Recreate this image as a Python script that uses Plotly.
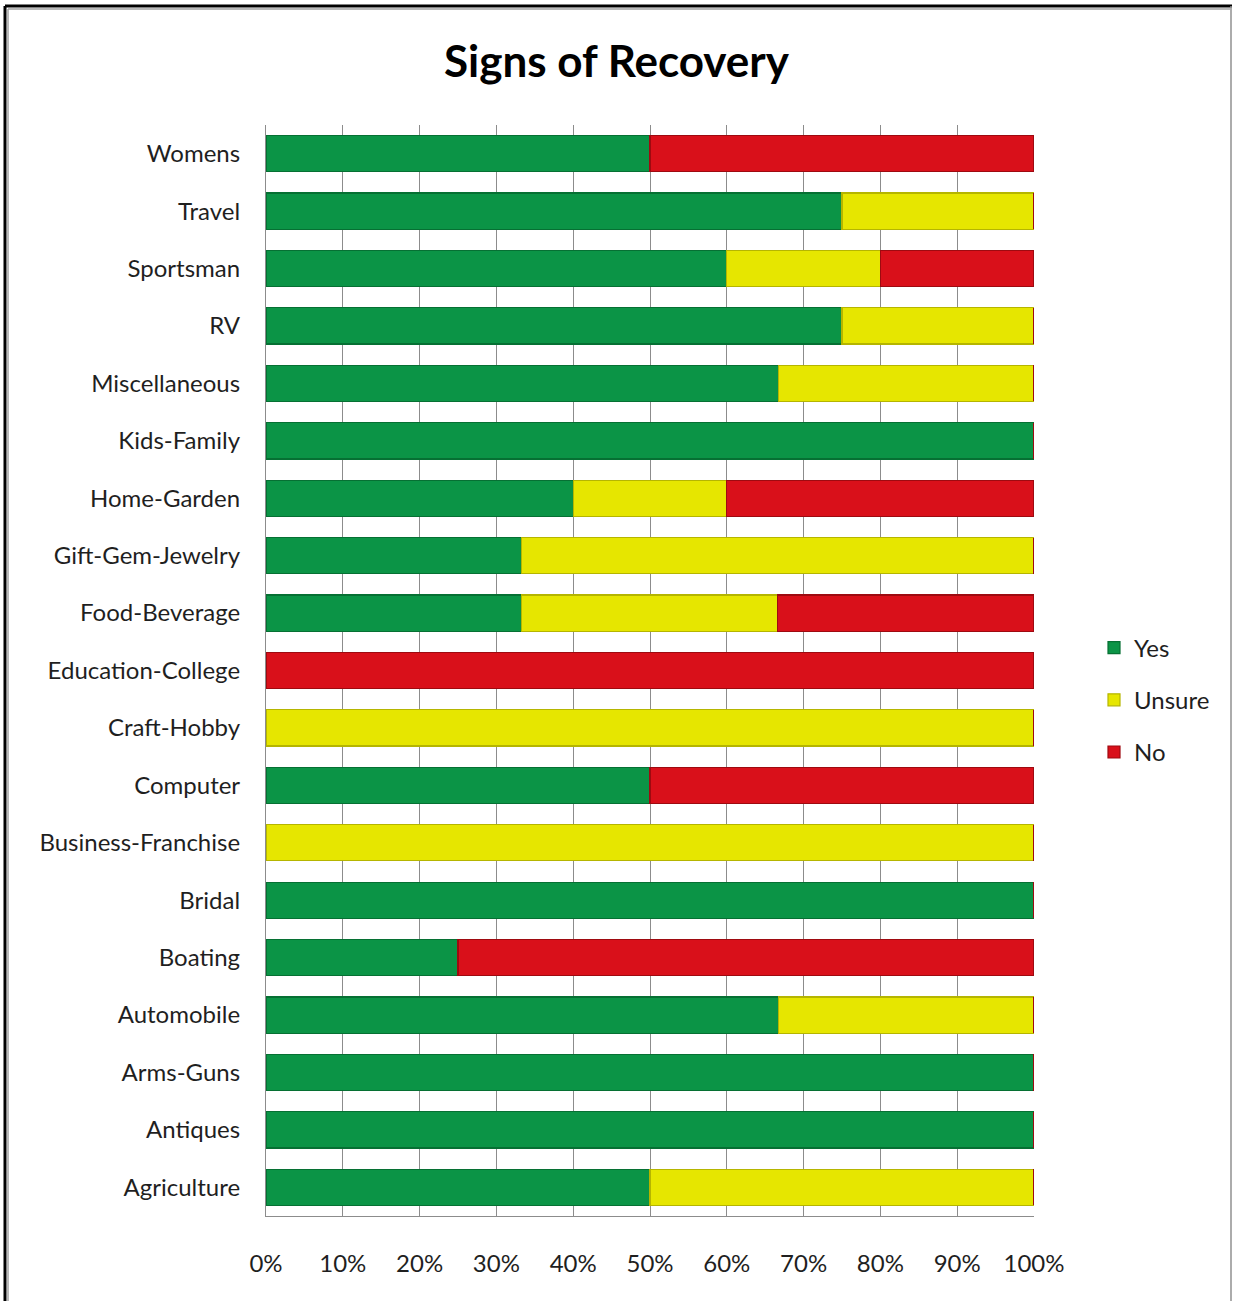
import plotly.graph_objects as go

# Survey categories (bottom to top on the chart)
categories = [
    "Agriculture", "Antiques", "Arms-Guns", "Automobile", "Boating", "Bridal",
    "Business-Franchise", "Computer", "Craft-Hobby", "Education-College",
    "Food-Beverage", "Gift-Gem-Jewelry", "Home-Garden", "Kids-Family",
    "Miscellaneous", "RV", "Sportsman", "Travel", "Womens",
]

# Share of responses per category (percent)
yes_pct = [50, 100, 100, 66.7, 25, 100, 0, 50, 0, 0,
           33.3, 33.3, 40, 100, 66.7, 75, 60, 75, 50]
unsure_pct = [50, 0, 0, 33.3, 0, 0, 100, 0, 100, 0,
              33.3, 66.7, 20, 0, 33.3, 25, 20, 25, 0]
no_pct = [0, 0, 0, 0, 75, 0, 0, 50, 0, 100,
          33.4, 0, 40, 0, 0, 0, 20, 0, 50]

x_ticks = [0, 10, 20, 30, 40, 50, 60, 70, 80, 90, 100]
x_tick_labels = [f"{v}%" for v in x_ticks]

series = [
    ("Yes", yes_pct, "#0b9446", "#067033"),
    ("Unsure", unsure_pct, "#e6e600", "#b5b500"),
    ("No", no_pct, "#d9101a", "#9e0a10"),
]

FONT = "Lato, 'Open Sans', sans-serif"
TEXT = "#1f1f1f"

fig = go.Figure()
for name, vals, color, edge in series:
    fig.add_trace(go.Bar(
        y=categories,
        x=vals,
        name=name,
        orientation="h",
        legendgroup=name,
        marker=dict(color=color, line=dict(color=edge, width=1.2)),
        width=0.63,
    ))

# Plot-area geometry in pixels, used to place the frame lines
W, H = 1233, 1301
ML, MR, MT, MB = 266, 199, 125, 85
PW, PH = W - ML - MR, H - MT - MB


def px_x(p):
    return (p - ML) / PW


def px_y(p):
    return (H - MB - p) / PH


frame = [
    dict(x0=px_x(5), x1=px_x(5), y0=px_y(6), y1=px_y(1301), color="#000000", w=3),
    dict(x0=px_x(5), x1=px_x(1232), y0=px_y(6), y1=px_y(6), color="#000000", w=3),
    dict(x0=px_x(8), x1=px_x(8), y0=px_y(9), y1=px_y(1301), color="#a0a0a0", w=1.5),
    dict(x0=px_x(8), x1=px_x(1230), y0=px_y(9), y1=px_y(9), color="#a0a0a0", w=1.5),
    dict(x0=px_x(1231), x1=px_x(1231), y0=px_y(6), y1=px_y(1301), color="#909090", w=1.5),
]
shapes = [
    dict(type="line", xref="paper", yref="paper", x0=f["x0"], x1=f["x1"],
         y0=f["y0"], y1=f["y1"], line=dict(color=f["color"], width=f["w"]))
    for f in frame
]

fig.update_layout(
    width=W,
    height=H,
    barmode="stack",
    bargap=0.37,
    paper_bgcolor="white",
    plot_bgcolor="white",
    margin=dict(l=ML, r=MR, t=MT, b=MB, autoexpand=False),
    title=dict(
        text="<b>Signs of Recovery</b>",
        x=0.5, xanchor="center",
        y=1 - 62 / H, yanchor="middle",
        font=dict(family=FONT, size=44, color="#000000"),
    ),
    font=dict(family=FONT, size=24, color=TEXT),
    xaxis=dict(
        range=[0, 100],
        tickvals=x_ticks,
        ticktext=x_tick_labels,
        showgrid=True,
        gridcolor="#8c8c8c",
        gridwidth=1.2,
        zeroline=False,
        showline=True,
        linecolor="#8c8c8c",
        linewidth=1.2,
        mirror=False,
        ticks="",
        ticklabelstandoff=26,
        tickfont=dict(family=FONT, size=24, color=TEXT),
        fixedrange=True,
    ),
    yaxis=dict(
        categoryorder="array",
        categoryarray=categories,
        showgrid=False,
        showline=True,
        linecolor="#8c8c8c",
        linewidth=1.2,
        ticks="",
        ticklabelstandoff=20,
        tickfont=dict(family=FONT, size=24, color=TEXT),
        fixedrange=True,
    ),
    legend=dict(
        x=px_x(1094), xanchor="left",
        y=px_y(700), yanchor="middle",
        traceorder="grouped",
        tracegroupgap=18,
        font=dict(family=FONT, size=24, color=TEXT),
        itemwidth=30,
        bgcolor="rgba(0,0,0,0)",
    ),
    shapes=shapes,
    showlegend=True,
)

fig.write_html("out.html")
